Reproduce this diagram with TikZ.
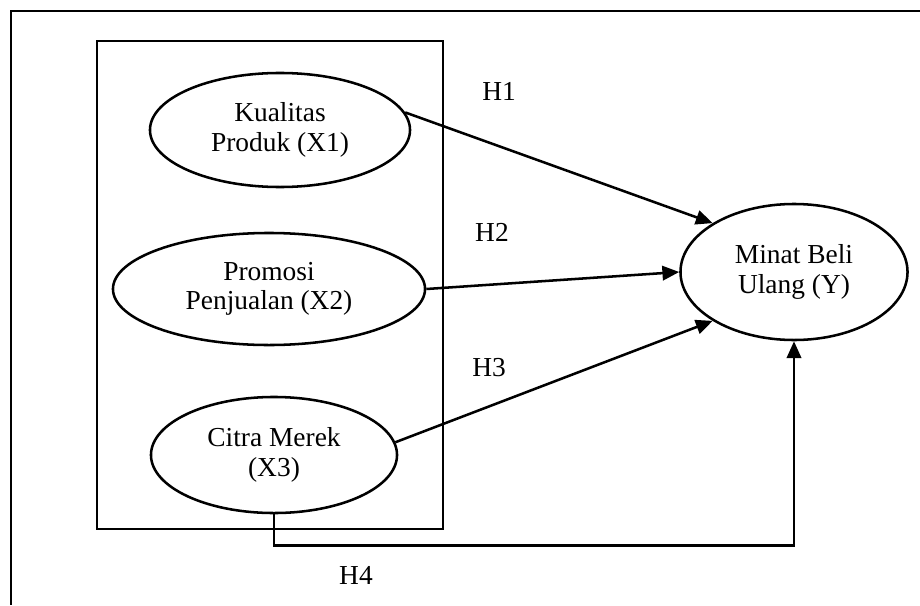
\documentclass[tikz,border=0pt]{standalone}
\usepackage{fontspec}
\setmainfont{Liberation Serif}
\usetikzlibrary{arrows.meta,shapes.geometric}

\tikzset{
	var/.style={draw, ellipse, line width=1.8pt, align=center, inner sep=0pt,
		font=\fontsize{19.5}{21}\selectfont},
	link/.style={line width=1.8pt, -{Triangle[length=0.42cm,width=0.36cm]}},
	hyp/.style={font=\fontsize{19.5}{21}\selectfont}
}

\begin{document}
\begin{tikzpicture}[x=0.025cm, y=-0.025cm]
			%%%%% FRAME %%%%%
			\useasboundingbox (0,0) rectangle (920,605);
			\draw[line width=2pt] (920,11) -- (11,11) -- (11,605);
			\draw[line width=2pt] (97,41) rectangle (443,529);
			
			%%%%% VARIABLES %%%%%
			\node[var, minimum width=6.5cm, minimum height=2.85cm] (x1) at (280,130) {Kualitas\\Produk (X1)};
			\node[var, minimum width=7.8cm, minimum height=2.8cm] (x2) at (269,289) {Promosi\\Penjualan (X2)};
			\node[var, minimum width=6.15cm, minimum height=2.9cm] (x3) at (274,455) {Citra Merek\\(X3)};
			\node[var, minimum width=5.675cm, minimum height=3.4cm] (y) at (794,272) {Minat Beli\\Ulang (Y)};
			
			%%%%% LINKS %%%%%
			\draw[link] (x1.8) -- (y.149);
			\draw[link] (x2.east) -- (y.west);
			\draw[link] (x3.6) -- (y.211);
			\draw[link] (x3.south) -- ++(0,31) -| (y.south);
			
			\node[hyp] (h1) at (499,91) {H1};
			\node[hyp] (h2) at (492,232) {H2};
			\node[hyp] (h3) at (489,368) {H3};
			\node[hyp] (h4) at (356,575) {H4};
\end{tikzpicture}
\end{document}
